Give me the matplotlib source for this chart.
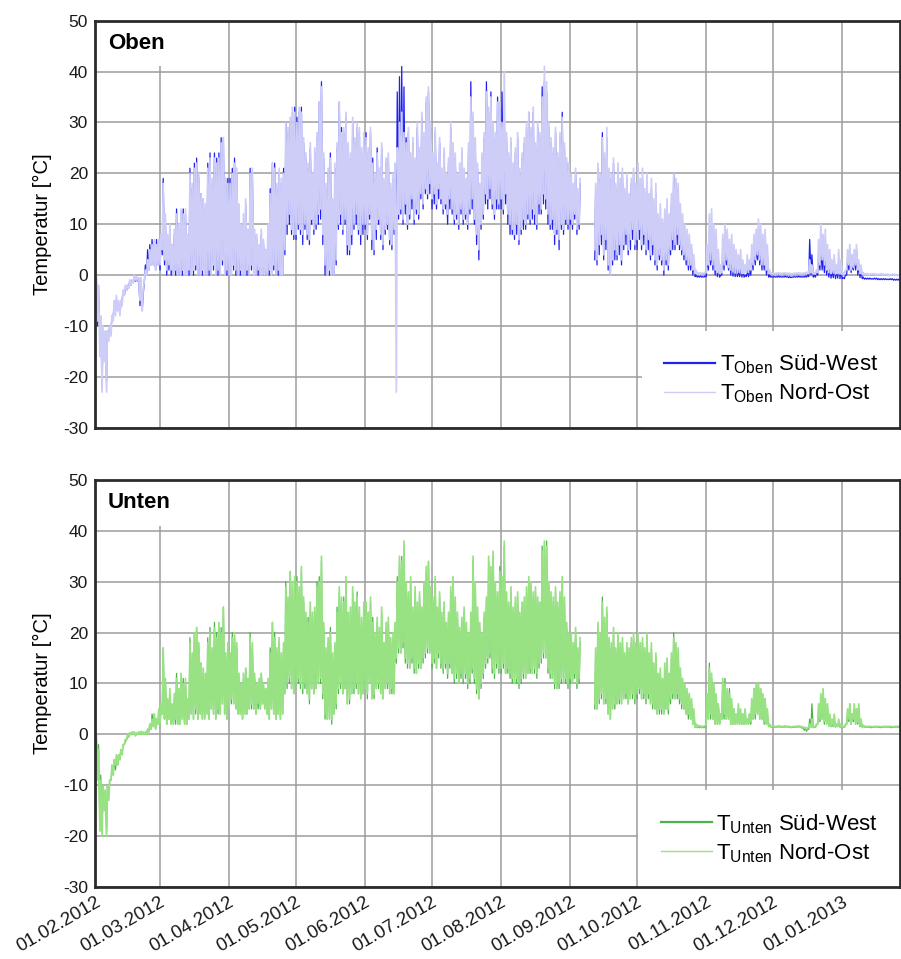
import matplotlib
matplotlib.use("Agg")
import matplotlib.dates as mdates
import matplotlib.pyplot as plt
import numpy as np
import pandas as pd

plt.rcParams["font.family"] = ["Liberation Sans", "DejaVu Sans"]
plt.rcParams["axes.unicode_minus"] = False
plt.rcParams["mathtext.fontset"] = "custom"
plt.rcParams["mathtext.rm"] = "Liberation Sans"
plt.rcParams["mathtext.it"] = "Liberation Sans:italic"
plt.rcParams["mathtext.bf"] = "Liberation Sans:bold"

nan = np.nan
days = pd.date_range("2012-02-01", "2013-01-27", freq="D")
month_ticks = pd.date_range("2012-02-01", "2013-01-01", freq="MS")

# daily max / min, one row per month (Feb 2012 .. Jan 2013)
oben_sw_max = [
    0, -3, -9, -11, -12, -11, -10, -8, -6, -5, -6, -6, -3, -2.5, -2, -1, -1, -0.5, -0.5, -0.6, -1, -4, 2, 5, 6, 7, 6, 7, 6,
    7, 19, 10, 6, 9, 6, 8, 13, 9, 12, 13, 12, 7, 21, 17, 22, 23, 19, 16, 15, 13, 22, 24, 18, 24, 23, 24, 27, 27, 19, 19,
    19, 21, 23, 20, 13, 9, 10, 14, 8, 21, 20, 8, 7, 5, 8, 6, 5, 9, 17, 22, 22, 17, 20, 18, 21, 30, 28, 30, 32, 33,
    31, 32, 33, 26, 23, 21, 25, 19, 24, 27, 34, 38, 23, 17, 20, 24, 14, 21, 25, 34, 29, 28, 31, 25, 23, 30, 26, 29, 28, 24, 27,
    28, 24, 28, 23, 19, 25, 20, 25, 18, 22, 23, 17, 19, 21, 36, 39, 41, 37, 27, 28, 23, 26, 22, 29, 24, 31, 27, 34, 36, 29,
    23, 28, 21, 26, 20, 24, 19, 22, 29, 25, 23, 19, 21, 24, 20, 18, 25, 38, 31, 26, 21, 17, 23, 27, 38, 32, 36, 29, 27, 35, 33,
    36, 30, 27, 23, 26, 21, 24, 27, 20, 23, 26, 29, 32, 28, 32, 25, 29, 27, 37, 38, 36, 29, 26, 24, 28, 23, 27, 32, 25, 22, 21,
    19, 17, 20, 16, 18, nan, nan, nan, nan, nan, nan, 17, 21, 19, 28, 23, 27, 20, 19, 22, 17, 21, 18, 20, 16, 19, 15, 18, 20, 17,
    21, 18, 19, 15, 18, 14, 17, 13, 16, 9, 11, 8, 10, 12, 9, 14, 20, 18, 17, 12, 10, 8, 7, 6, 5, 3, 0, -0.2, -0.2, -0.3, -0.2,
    3, 8, 6, 5, 4, 2, 0, 5, 7, 6, 5, 4, 3, 2, 1, 2, 1, 0, 1, 1, 4, 5, 5, 7, 6, 5, 6, 4, 0, -0.3,
    -0.3, -0.3, -0.2, -0.3, -0.3, -0.2, -0.3, -0.3, -0.4, -0.3, -0.3, -0.2, -0.3, -0.3, -0.2, 0, 7, 4, 0, 0.5, 4, 5, 4, 5, 3, 2, 1, 2, 1, 3, 1,
    -0.5, 0, 3, 5, 2, 4, 5, 2, 1, -0.4, -0.6, -0.6, -0.6, -0.7, -0.6, -0.6, -0.7, -0.7, -0.7, -0.7, -0.8, -0.7, -0.7, -0.8, -0.8, -0.8, -0.8,
]
oben_sw_min = [
    -3, -10, -12, -22, -14, -21, -12, -11, -8, -7, -7, -7, -5, -4, -3, -2.5, -2, -1.5, -1.2, -1.2, -6, -7, -1, 0, 1, 2, 2, 1, 2,
    1, 4, 2, 0, 1, 0, 0, 0, 0, 0, 0, 0, 0, 0, 0, 0, 1, 0, 0, 0, 0, 0, 0, 0, 1, 0, 0, 0, 2, 0, 0,
    0, 0, 1, 0, 0, 0, 0, 0, 0, 0, 1, 0, 0, 0, 0, 0, 0, 0, 0, 0, 1, 0, 0, 0, 0, 4, 8, 10, 8, 7,
    7, 9, 8, 6, 9, 7, 6, 10, 8, 9, 10, 11, 6, 0, 0, 0, 0, 0, 2, 9, 10, 8, 10, 4, 4, 6, 9, 10, 8, 6, 8,
    9, 7, 11, 5, 4, 7, 10, 7, 5, 8, 9, 6, 5, 8, 9, 11, 12, 10, 12, 9, 11, 13, 10, 12, 11, 15, 13, 16, 15, 16,
    13, 14, 13, 15, 14, 12, 13, 10, 13, 12, 10, 11, 9, 12, 10, 11, 9, 12, 13, 10, 6, 3, 9, 11, 14, 13, 15, 13, 11, 13, 13,
    13, 12, 14, 10, 8, 8, 7, 8, 6, 8, 9, 9, 11, 10, 11, 10, 9, 12, 12, 14, 13, 10, 9, 9, 6, 8, 5, 9, 8, 10, 9,
    10, 9, 11, 8, 9, nan, nan, nan, nan, nan, nan, 3, 2, 4, 6, 3, 5, 1, 0, 2, 3, 3, 4, 2, 5, 6, 4, 5, 7, 5,
    5, 7, 5, 6, 4, 5, 3, 4, 2, 1, 3, 2, 0, 2, 1, 4, 5, 5, 6, 5, 4, 3, 2, 1, 1, 0, -0.3, -0.4, -0.4, -0.4, -0.4,
    -0.3, 1, 2, 1, 0, -0.3, -0.4, 0, 1, 2, 1, 0, -0.2, -0.3, -0.3, -0.3, -0.4, -0.4, -0.3, -0.3, 0, 1, 2, 3, 2, 1, 1, 0, -0.4, -0.4,
    -0.4, -0.4, -0.4, -0.4, -0.4, -0.4, -0.4, -0.5, -0.5, -0.4, -0.4, -0.4, -0.4, -0.4, -0.4, -0.4, -0.3, 0, -0.4, -0.4, 0, 1, 1, 0.5, 0, -0.4, -0.6, -0.5, -0.7, -0.6, -0.7,
    -0.7, -0.7, 0, 1, 0.5, 1, 1, 0, -0.5, -0.7, -0.8, -0.8, -0.8, -0.8, -0.8, -0.8, -0.9, -0.9, -0.9, -0.9, -0.9, -0.9, -0.9, -1.0, -1.0, -1.0, -1.0,
]
oben_no_max = [
    0, -2, -8, -10, -11, -11, -10, -8, -5, -4, -5, -5, -3, -2, -2, -1, -1, 0, -0.3, -0.5, -0.5, -3, 1, 3, 5, 6, 7, 6, 7,
    8, 18, 12, 8, 10, 6, 9, 12, 10, 13, 12, 13, 8, 20, 18, 21, 22, 20, 16, 15, 14, 21, 23, 19, 23, 22, 23, 26, 27, 19, 18,
    18, 20, 22, 21, 14, 10, 12, 15, 9, 20, 21, 9, 8, 6, 9, 7, 5, 10, 16, 22, 21, 18, 21, 19, 20, 30, 29, 31, 33, 32,
    30, 33, 32, 27, 24, 22, 26, 20, 25, 28, 34, 37, 24, 18, 21, 23, 15, 22, 26, 34, 28, 29, 32, 26, 24, 31, 27, 30, 29, 25, 28,
    27, 25, 29, 22, 20, 24, 21, 26, 19, 23, 24, 18, 20, 22, 25, 30, 32, 28, 26, 29, 24, 27, 23, 30, 25, 32, 28, 35, 37, 30,
    24, 29, 22, 27, 21, 25, 20, 23, 30, 26, 24, 20, 22, 25, 21, 19, 26, 35, 32, 27, 22, 18, 24, 28, 36, 33, 35, 30, 28, 34, 34,
    30, 40, 28, 24, 27, 22, 25, 28, 21, 24, 27, 30, 32, 29, 33, 26, 30, 28, 35, 41, 38, 30, 27, 25, 29, 24, 28, 31, 26, 23, 22,
    20, 18, 21, 17, 19, nan, nan, nan, nan, nan, nan, 18, 22, 20, 27, 24, 29, 21, 20, 23, 18, 22, 19, 21, 17, 20, 16, 19, 21, 18,
    22, 19, 21, 17, 20, 16, 19, 15, 18, 12, 14, 11, 13, 15, 12, 16, 20, 19, 18, 14, 12, 10, 9, 8, 6, 4, 1, 0.5, 0.5, 0.4, 0.5,
    6, 12, 13, 10, 9, 5, 2, 8, 10, 9, 7, 8, 6, 5, 4, 5, 3, 2, 4, 3, 6, 8, 9, 11, 10, 8, 9, 6, 1, 0.4,
    0.4, 0.4, 0.5, 0.4, 0.4, 0.5, 0.4, 0.4, 0.3, 0.4, 0.4, 0.5, 0.4, 0.4, 0.5, 0.6, 3, 2, 0.5, 1, 7, 10, 8, 9, 6, 5, 3, 4, 2, 5, 3,
    0.5, 1, 5, 6, 4, 5, 6, 3, 2, 0.5, 0.3, 0.3, 0.2, 0.3, 0.3, 0.2, 0.2, 0.3, 0.2, 0.2, 0.2, 0.1, 0.2, 0.2, 0.1, 0.1, 0.1,
]
oben_no_min = [
    -2, -9, -16, -23, -17, -23, -13, -12, -9, -8, -7, -8, -6, -4, -3, -2.5, -2, -1.5, -1, -1, -5, -7, -1, 0, 1, 2, 2, 1, 2,
    2, 5, 3, 1, 2, 1, 0, 1, 0, 0, 1, 0, 0, 1, 0, 1, 2, 0, 0, 1, 0, 0, 1, 0, 2, 0, 1, 0, 3, 0, 1,
    0, 0, 2, 1, 0, 1, 0, 0, 1, 0, 2, 0, 0, 1, 0, 0, 0, 0, 1, 0, 2, 0, 1, 0, 0, 5, 10, 12, 9, 8,
    8, 10, 9, 8, 10, 8, 7, 11, 9, 10, 12, 13, 8, 2, 0, 1, 0, 0, 3, 10, 12, 9, 11, 6, 5, 8, 10, 12, 9, 8, 10,
    10, 8, 12, 7, 5, 9, 11, 8, 6, 9, 10, 7, 6, 9, -23, 12, 13, 11, 14, 10, 12, 15, 11, 13, 12, 16, 14, 17, 16, 18,
    15, 16, 14, 17, 15, 13, 14, 12, 15, 13, 11, 12, 10, 13, 11, 12, 10, 13, 15, 11, 8, 5, 10, 12, 16, 15, 17, 14, 12, 15, 14,
    15, 13, 16, 12, 10, 9, 8, 10, 7, 9, 11, 10, 12, 11, 13, 12, 10, 14, 13, 16, 15, 12, 10, 11, 8, 9, 7, 10, 9, 11, 10,
    11, 10, 12, 9, 10, nan, nan, nan, nan, nan, nan, 5, 3, 6, 8, 4, 7, 2, 0, 3, 5, 4, 6, 3, 6, 8, 5, 7, 9, 6,
    7, 9, 6, 8, 5, 7, 4, 6, 3, 2, 4, 3, 1, 3, 2, 5, 7, 6, 8, 6, 5, 4, 3, 2, 2, 1, 0.3, 0.2, 0.2, 0.2, 0.3,
    0.5, 2, 3, 2, 1, 0.5, 0.3, 0.5, 2, 3, 1.5, 1, 0.6, 0.4, 0.4, 0.5, 0.3, 0.3, 0.4, 0.5, 1, 2, 3, 4, 3, 2, 2, 1, 0.3, 0.3,
    0.2, 0.2, 0.3, 0.2, 0.2, 0.3, 0.2, 0.2, 0.1, 0.2, 0.2, 0.3, 0.2, 0.2, 0.3, 0.3, 0.3, 0.5, 0.2, 0.2, 0.5, 2, 3, 2, 1, 0.5, 0.3, 0.4, 0.2, 0.3, 0.2,
    0.1, 0.1, 1, 2, 1, 1.5, 2, 1, 0.3, 0.1, 0.1, 0.1, 0.0, 0.1, 0.1, 0.0, 0.0, 0.1, 0.0, 0.0, 0.0, -0.1, 0.0, 0.0, -0.1, -0.1, -0.1,
]

unten_sw_max = [
    0, -2, -8, -10, -11, -10, -9, -7, -5, -5, -4, -3, -2, -1.5, -0.5, 0.2, 0.4, 0.4, 0.2, 0.4, 0.5, 0.4, 0.4, 1, 2, 4, 4, 3, 4,
    5, 17, 10, 6, 8, 5, 7, 12, 8, 11, 11, 10, 6, 19, 15, 20, 21, 17, 14, 12, 11, 19, 21, 16, 22, 20, 21, 21, 25, 15, 17,
    15, 20, 19, 17, 11, 10, 11, 13, 10, 20, 17, 11, 9, 10, 12, 9, 9, 10, 17, 22, 20, 16, 18, 15, 17, 30, 26, 32, 29, 30,
    31, 28, 32, 26, 23, 23, 25, 23, 24, 30, 31, 34, 21, 16, 18, 21, 15, 17, 25, 28, 26, 27, 30, 23, 24, 28, 25, 28, 24, 22, 25,
    25, 24, 26, 23, 19, 22, 20, 24, 18, 21, 22, 18, 19, 21, 31, 34, 35, 37, 29, 27, 30, 24, 28, 25, 27, 24, 29, 32, 34, 28,
    26, 30, 24, 27, 23, 25, 21, 23, 28, 30, 26, 23, 20, 22, 24, 21, 19, 23, 34, 29, 24, 21, 19, 23, 26, 34, 32, 35, 29, 27, 33,
    30, 37, 27, 25, 28, 24, 26, 27, 23, 25, 26, 28, 30, 29, 27, 28, 26, 25, 37, 37, 38, 29, 27, 26, 28, 25, 27, 30, 26, 21, 19,
    19, 17, 20, 16, 18, nan, nan, nan, nan, nan, nan, 16, 21, 19, 27, 22, 24, 18, 17, 20, 16, 19, 17, 18, 15, 17, 16, 18, 19, 17,
    19, 17, 18, 16, 19, 15, 17, 13, 15, 11, 12, 10, 13, 14, 11, 15, 20, 17, 16, 12, 10, 9, 8, 7, 6, 4, 2, 1.6, 1.5, 1.4, 1.5,
    7, 14, 11, 9, 7, 6, 4, 10, 11, 8, 9, 6, 5, 4, 5, 4, 4, 4, 3, 4, 6, 9, 9, 10, 9, 7, 7, 4, 2, 1.5,
    1.5, 1.5, 1.6, 1.5, 1.5, 1.6, 1.5, 1.5, 1.4, 1.5, 1.5, 1.6, 1.5, 1.4, 1.2, 1.0, 3, 6, 1.5, 1.8, 5, 7, 8, 6, 5, 3, 2, 3, 2, 2, 1.6,
    1.5, 1.8, 4, 6, 4, 5, 5, 5, 2, 1.6, 1.5, 1.5, 1.5, 1.4, 1.5, 1.5, 1.5, 1.4, 1.5, 1.5, 1.5, 1.5, 1.4, 1.5, 1.5, 1.5, 1.5,
]
unten_sw_min = [
    -2, -8, -18, -19, -14, -19, -12, -9, -8, -7, -6, -5, -4, -2, -1, -0.5, -0.1, 0, -0.3, 0, 0, 0, 0, 0, 0.5, 1, 2, 1, 2,
    2, 4, 3, 2, 3, 2, 2, 2, 2, 2, 3, 2, 2, 3, 4, 3, 4, 3, 4, 3, 3, 4, 3, 5, 4, 3, 4, 4, 6, 4, 3,
    5, 6, 6, 5, 4, 4, 3, 4, 4, 5, 5, 5, 4, 5, 5, 6, 5, 4, 3, 5, 4, 3, 4, 3, 4, 8, 9, 10, 9, 8,
    10, 10, 9, 8, 9, 8, 6, 9, 8, 9, 10, 10, 7, 3, 3, 3, 2, 4, 5, 8, 9, 8, 9, 6, 6, 8, 8, 9, 8, 7, 8,
    9, 7, 10, 7, 7, 9, 9, 8, 7, 9, 9, 8, 8, 8, 14, 16, 16, 17, 14, 13, 13, 14, 12, 12, 13, 13, 14, 15, 16, 16,
    13, 14, 13, 15, 13, 12, 13, 11, 13, 12, 10, 11, 10, 11, 10, 11, 9, 10, 12, 10, 8, 7, 9, 11, 13, 14, 15, 12, 11, 13, 12,
    12, 13, 12, 12, 11, 10, 10, 10, 9, 10, 11, 11, 12, 12, 12, 12, 11, 13, 14, 15, 15, 12, 11, 11, 9, 9, 9, 10, 10, 10, 9,
    10, 10, 11, 9, 10, nan, nan, nan, nan, nan, nan, 5, 5, 6, 7, 6, 6, 4, 3, 5, 5, 6, 6, 6, 7, 7, 6, 7, 7, 6,
    7, 8, 7, 7, 6, 7, 6, 5, 5, 4, 4, 4, 4, 5, 4, 6, 7, 7, 7, 6, 5, 5, 4, 3, 3, 2, 1.4, 1.3, 1.3, 1.3, 1.3,
    1.6, 3, 3, 3, 2, 2, 2, 3, 3, 3, 3, 2, 2, 2, 2, 2, 2, 2, 2, 2, 2, 3, 3, 4, 3, 3, 2, 2, 1.5, 1.4,
    1.4, 1.4, 1.4, 1.4, 1.4, 1.4, 1.4, 1.4, 1.3, 1.4, 1.4, 1.4, 1.4, 1.2, 0.8, 0.6, 1, 1.4, 1.3, 1.4, 2, 2.5, 3, 2, 2, 1.6, 1.5, 1.5, 1.4, 1.5, 1.4,
    1.3, 1.4, 2, 2.5, 2, 2.5, 2, 2, 1.5, 1.4, 1.4, 1.4, 1.4, 1.3, 1.4, 1.4, 1.4, 1.3, 1.4, 1.4, 1.4, 1.4, 1.3, 1.4, 1.4, 1.4, 1.4,
]
unten_no_max = [
    0, -3, -9, -10, -11, -10, -9, -6, -5, -4, -4, -3, -2, -1, 0, 0.3, 0.5, 0.5, 0.3, 0.5, 0.6, 0.5, 0.5, 1, 2, 3, 4, 3, 5,
    6, 17, 11, 7, 9, 6, 8, 11, 9, 12, 10, 11, 7, 18, 16, 20, 21, 18, 14, 13, 12, 18, 20, 17, 21, 19, 22, 20, 25, 16, 18,
    16, 19, 20, 18, 12, 10, 12, 13, 11, 19, 18, 12, 10, 11, 12, 10, 9, 11, 16, 22, 19, 17, 19, 16, 18, 29, 27, 32, 30, 31,
    30, 29, 33, 27, 24, 22, 26, 24, 25, 29, 30, 35, 22, 17, 19, 20, 16, 18, 24, 29, 27, 26, 31, 24, 25, 29, 26, 27, 25, 23, 26,
    26, 24, 27, 22, 20, 23, 21, 25, 18, 22, 23, 19, 20, 22, 30, 35, 34, 38, 30, 28, 31, 25, 29, 26, 28, 25, 30, 33, 34, 29,
    27, 31, 25, 28, 24, 26, 22, 24, 29, 31, 27, 24, 21, 23, 25, 22, 20, 24, 35, 30, 25, 22, 20, 24, 27, 35, 33, 36, 30, 28, 32,
    31, 38, 28, 26, 29, 25, 27, 28, 24, 26, 27, 29, 31, 30, 28, 29, 27, 26, 36, 38, 37, 30, 28, 27, 29, 26, 28, 31, 27, 22, 20,
    20, 18, 21, 17, 19, nan, nan, nan, nan, nan, nan, 17, 22, 20, 26, 23, 25, 19, 18, 21, 17, 20, 18, 19, 16, 18, 17, 19, 20, 18,
    20, 18, 19, 17, 20, 16, 18, 14, 16, 12, 13, 11, 14, 15, 12, 16, 19, 18, 17, 13, 11, 10, 9, 8, 7, 5, 2, 1.8, 1.7, 1.6, 1.7,
    8, 13, 12, 10, 8, 6, 4, 11, 10, 9, 8, 7, 5, 4, 6, 5, 4, 5, 3, 4, 7, 9, 10, 10, 9, 8, 7, 5, 2, 1.6,
    1.6, 1.6, 1.7, 1.6, 1.6, 1.7, 1.6, 1.6, 1.5, 1.6, 1.6, 1.7, 1.6, 1.5, 1.4, 1.3, 2, 3, 1.6, 2, 6, 8, 9, 7, 6, 4, 3, 4, 2, 3, 2,
    1.6, 2, 5, 6, 4, 6, 5, 6, 3, 1.8, 1.6, 1.6, 1.6, 1.5, 1.6, 1.6, 1.6, 1.5, 1.6, 1.6, 1.6, 1.6, 1.5, 1.6, 1.6, 1.6, 1.6,
]
unten_no_min = [
    -3, -9, -19, -20, -15, -20, -13, -9, -8, -6, -6, -5, -4, -2, -1, -0.5, 0, 0, -0.2, 0, 0, 0, 0, 0, 0.5, 1, 1.5, 1, 2,
    2, 4, 3, 2, 3, 2, 2, 3, 2, 2, 3, 2, 2, 3, 4, 3, 5, 3, 4, 3, 3, 4, 3, 5, 4, 3, 5, 4, 6, 4, 3,
    5, 7, 6, 5, 4, 4, 3, 4, 4, 5, 6, 5, 4, 6, 5, 6, 5, 4, 3, 5, 4, 3, 4, 3, 4, 8, 10, 11, 9, 8,
    10, 11, 10, 9, 10, 8, 7, 9, 8, 9, 10, 11, 8, 4, 3, 3, 3, 4, 6, 9, 10, 8, 9, 6, 7, 8, 9, 10, 8, 7, 8,
    9, 8, 10, 7, 8, 9, 10, 8, 7, 9, 10, 8, 9, 8, 15, 17, 16, 18, 15, 14, 13, 15, 13, 12, 14, 13, 15, 16, 17, 16,
    14, 15, 13, 16, 14, 13, 14, 12, 14, 12, 11, 12, 10, 12, 11, 12, 10, 11, 13, 11, 9, 7, 10, 12, 14, 15, 16, 13, 12, 14, 13,
    13, 14, 12, 13, 12, 11, 10, 11, 10, 11, 12, 11, 12, 13, 12, 13, 12, 14, 15, 16, 15, 13, 12, 11, 10, 9, 10, 11, 10, 11, 10,
    11, 10, 12, 10, 11, nan, nan, nan, nan, nan, nan, 6, 5, 7, 8, 6, 7, 4, 3, 5, 6, 6, 7, 6, 7, 8, 6, 7, 8, 7,
    8, 9, 7, 8, 7, 8, 6, 6, 5, 4, 5, 5, 4, 5, 5, 7, 8, 7, 8, 7, 6, 5, 4, 4, 3, 2, 1.5, 1.5, 1.5, 1.4, 1.5,
    1.8, 3, 4, 3, 2, 2, 2, 3, 4, 3, 3, 2, 2, 2, 2, 2, 2, 2, 2, 2, 2.5, 3, 4, 4, 3, 3, 2.5, 2, 1.6, 1.5,
    1.5, 1.5, 1.5, 1.5, 1.5, 1.5, 1.5, 1.5, 1.4, 1.5, 1.5, 1.5, 1.5, 1.4, 1.2, 1.0, 1.3, 1.5, 1.4, 1.5, 2, 3, 3, 2.5, 2, 1.8, 1.6, 1.7, 1.5, 1.6, 1.5,
    1.4, 1.5, 2, 3, 2, 3, 2, 2.5, 1.6, 1.5, 1.5, 1.5, 1.5, 1.5, 1.5, 1.5, 1.5, 1.5, 1.5, 1.5, 1.5, 1.5, 1.5, 1.5, 1.5, 1.5, 1.5,
]

panels = [
    ("Oben", (oben_sw_min, oben_sw_max), (oben_no_min, oben_no_max), "#1f1ff0", "#cdcdf8"),
    ("Unten", (unten_sw_min, unten_sw_max), (unten_no_min, unten_no_max), "#4cb24c", "#98e283"),
]


def daily_path(lo, hi):
    # each day: morning low, afternoon high
    base = mdates.date2num(days.to_pydatetime())
    t = np.column_stack([base + 0.2, base + 0.6]).ravel()
    y = np.column_stack([np.asarray(lo, float), np.asarray(hi, float)]).ravel()
    return t, y


fig = plt.figure(figsize=(9.01, 9.59), dpi=100)
ax_top = fig.add_axes([0.1054, 0.5540, 0.8935, 0.4244])
ax_bot = fig.add_axes([0.1054, 0.0751, 0.8935, 0.4244])

for ax, (name, sw, no, c_sw, c_no) in zip([ax_top, ax_bot], panels):
    for lo, hi in (sw, no):
        assert len(lo) == len(days) and len(hi) == len(days), (name, len(lo), len(hi))
    t, y = daily_path(*sw)
    ax.plot(t, y, color=c_sw, lw=0.9, label=f"T$_{{\\mathregular{{{name}}}}}$ Süd-West")
    t, y = daily_path(*no)
    ax.plot(t, y, color=c_no, lw=1.25, label=f"T$_{{\\mathregular{{{name}}}}}$ Nord-Ost")

    ax.set_ylim(-30, 50)
    ax.set_yticks(range(-30, 51, 10))
    ax.set_xlim(mdates.date2num(pd.Timestamp("2012-02-01")), mdates.date2num(pd.Timestamp("2013-01-27 03:00")))
    ax.set_xticks(mdates.date2num(month_ticks.to_pydatetime()))
    ax.xaxis.set_major_formatter(mdates.DateFormatter("%d.%m.%Y"))
    ax.grid(True, color="#9c9c9c", lw=1.1)
    ax.set_axisbelow(True)
    for sp in ax.spines.values():
        sp.set_linewidth(2.0)
        sp.set_color("#2b2b2b")
        sp.set_zorder(6)
    ax.tick_params(length=0, labelsize=12.5, pad=5, colors="#1a1a1a")
    ax.set_ylabel("Temperatur [°C]", fontsize=14.5, labelpad=8)

    ax.text(0.016, 0.944, name, transform=ax.transAxes, fontsize=16, fontweight="bold",
            ha="left", va="center", zorder=2.2,
            bbox=dict(facecolor="white", edgecolor="none", pad=9))

    leg = ax.legend(loc="lower right", borderaxespad=0, fontsize=16, handlelength=2.3,
                    handletextpad=0.2, labelspacing=0.25, borderpad=1.0, frameon=True,
                    fancybox=False, framealpha=1, facecolor="white", edgecolor="none")
    leg.set_zorder(5)
    for ln, w in zip(leg.get_lines(), [1.6, 1.0]):
        ln.set_linewidth(w)

ax_top.tick_params(labelbottom=False)
plt.setp(ax_bot.get_xticklabels(), rotation=30, ha="right", rotation_mode="anchor", fontsize=13.5)

fig.savefig("out.png", dpi=100)
